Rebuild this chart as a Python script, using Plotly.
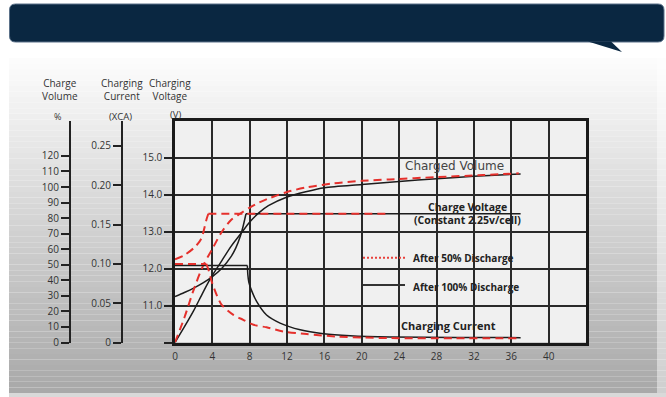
import plotly.graph_objects as go

W, H = 666, 397

# ---------------- data ----------------
# Charge voltage (V)
hours_v100 = [0, 1, 2, 3, 4, 5, 6, 6.5, 7, 7.3, 7.6, 37]
volt_v100 = [11.24, 11.35, 11.47, 11.61, 11.78, 12.0, 12.32, 12.55, 12.88, 13.15, 13.48, 13.48]
hours_v50 = [0, 1, 2, 2.6, 2.9, 3.2, 3.4, 3.57, 23]
volt_v50 = [12.25, 12.36, 12.55, 12.72, 12.86, 13.15, 13.35, 13.48, 13.48]

# Charged volume (%)
hours_q100 = [0, 1, 2, 3, 3.82, 5, 6, 7.1, 8, 9, 10, 12, 14, 16, 20, 24, 28, 32, 37]
pct_q100 = [0, 10, 20.5, 32.3, 41.4, 52.5, 61.8, 70.4, 77.5, 83.5, 88, 93.6, 97, 99.6, 101.7, 103.6, 105.4, 106.9, 108.4]
hours_q50 = [0, 1, 2, 3, 4, 5, 6, 7, 8, 9, 10, 12, 14, 17, 20, 23, 28, 33, 36.8]
pct_q50 = [0, 15.9, 33.9, 49.3, 60.2, 71.1, 78.8, 83.0, 86.8, 90.0, 92.6, 96.8, 99.7, 102.4, 104.0, 104.9, 106.4, 107.7, 108.8]

# Charging current (xCA)
hours_i100 = [0, 7.75, 7.8, 7.9, 8.2, 8.75, 9.8, 11.25, 13.4, 15.9, 18.75, 23, 30, 37]
cur_i100 = [0.098, 0.098, 0.086, 0.077, 0.066, 0.052, 0.035, 0.0247, 0.0161, 0.0111, 0.0085, 0.0069, 0.0064, 0.0062]
hours_i50 = [0, 3.35, 3.6, 3.93, 4.5, 5, 6.25, 7.3, 8.4, 9.8, 11.6, 14.1, 17.3, 20.2, 23, 30, 37]
cur_i50 = [0.100, 0.100, 0.092, 0.0775, 0.0594, 0.0479, 0.0352, 0.0289, 0.0225, 0.0193, 0.014, 0.0107, 0.0076, 0.0064, 0.0056, 0.0054, 0.0053]

# corner indices (where a curve changes from rising/flat segments)
v100_corner = 10
v50_corner = 7
i100_corner = 1
i50_corner = 1

x_ticks = list(range(0, 41, 4))
volt_ticks = [10, 11, 12, 13, 14, 15]
volt_ticktext = ["", "11.0", "12.0", "13.0", "14.0", "15.0"]
pct_ticks = list(range(0, 121, 10))
cur_ticks = [0, 0.05, 0.10, 0.15, 0.20, 0.25]
cur_ticktext = ["0", "0.05", "0.10", "0.15", "0.20", "0.25"]

# ---------------- helpers ----------------
def px(x):
    return x / W

def py(y):
    return 1 - y / H

RED = "#e5302c"
BLACK = "#1c1c1c"
FONT = "Open Sans"

fig = go.Figure()

def seg(xs, ys, axis, color, dash, shape, width):
    fig.add_trace(go.Scatter(
        x=xs, y=ys, yaxis=axis, mode="lines", hoverinfo="skip", showlegend=False,
        line=dict(color=color, width=width, dash=dash, shape=shape,
                  smoothing=0.8 if shape == "spline" else None)))

# charged volume
seg(hours_q100, pct_q100, "y2", BLACK, "solid", "spline", 1.5)
seg(hours_q50, pct_q50, "y2", RED, "8px,5px", "spline", 2)
# charge voltage
seg(hours_v100[:v100_corner + 1], volt_v100[:v100_corner + 1], "y", BLACK, "solid", "spline", 1.5)
seg(hours_v100[v100_corner:], volt_v100[v100_corner:], "y", BLACK, "solid", "linear", 1.5)
seg(hours_v50[:v50_corner + 1], volt_v50[:v50_corner + 1], "y", RED, "8px,5px", "spline", 2)
seg(hours_v50[v50_corner:], volt_v50[v50_corner:], "y", RED, "8px,5px", "linear", 2)
# charging current
seg(hours_i100[:i100_corner + 1], cur_i100[:i100_corner + 1], "y3", BLACK, "solid", "linear", 1.5)
seg(hours_i100[i100_corner:], cur_i100[i100_corner:], "y3", BLACK, "solid", "spline", 1.5)
seg(hours_i50[:i50_corner + 1], cur_i50[:i50_corner + 1], "y3", RED, "8px,5px", "linear", 2)
seg(hours_i50[i50_corner:], cur_i50[i50_corner:], "y3", RED, "8px,5px", "spline", 2)

# ---------------- background decoration ----------------
shapes = []
top_y, bot_y = 58, 393
n = 60
for k in range(n):
    y0 = top_y + (bot_y - top_y) * k / n
    y1 = top_y + (bot_y - top_y) * (k + 1) / n
    t = (k + 0.5) / n
    c = int(round(253 - (253 - 168) * t))
    cl = int(round(c + (255 - c) * 0.45))
    shapes.append(dict(type="rect", xref="paper", yref="paper", layer="below",
                       x0=px(9), x1=px(657), y0=py(y1), y1=py(y0),
                       fillcolor=f"rgb({c},{c},{c})", line=dict(width=0)))
    shapes.append(dict(type="rect", xref="paper", yref="paper", layer="below",
                       x0=px(657), x1=px(666), y0=py(y1), y1=py(y0),
                       fillcolor=f"rgb({cl},{cl},{cl})", line=dict(width=0)))
shapes.append(dict(type="rect", xref="paper", yref="paper", layer="below",
                   x0=px(9), x1=px(666), y0=0, y1=py(bot_y),
                   fillcolor="#d9d9d9", line=dict(width=0)))
# plot area
shapes.append(dict(type="rect", xref="x", yref="y", layer="below",
                   x0=0, x1=44, y0=10, y1=16, fillcolor="#f0f0f0", line=dict(width=0)))

# banner with rounded corners
bx0, bx1, by0, by1, r = 9.5, 664, 4, 42, 6
path = (f"M {px(bx0 + r)},{py(by0)} L {px(bx1 - r)},{py(by0)} "
        f"Q {px(bx1)},{py(by0)} {px(bx1)},{py(by0 + r)} L {px(bx1)},{py(by1 - r)} "
        f"Q {px(bx1)},{py(by1)} {px(bx1 - r)},{py(by1)} L {px(bx0 + r)},{py(by1)} "
        f"Q {px(bx0)},{py(by1)} {px(bx0)},{py(by1 - r)} L {px(bx0)},{py(by0 + r)} "
        f"Q {px(bx0)},{py(by0)} {px(bx0 + r)},{py(by0)} Z")
shapes.append(dict(type="path", xref="paper", yref="paper", path=path,
                   fillcolor="#0a2741", line=dict(color="#5b7189", width=1)))
tail = f"M {px(588)},{py(41.5)} L {px(622)},{py(52)} L {px(611)},{py(41.5)} Z"
shapes.append(dict(type="path", xref="paper", yref="paper", path=tail,
                   fillcolor="#0a2741", line=dict(width=0)))

# legend samples
shapes.append(dict(type="line", xref="paper", yref="paper", x0=px(363), x1=px(405),
                   y0=py(257.7), y1=py(257.7), line=dict(color="#e8413c", width=2, dash="2px,2px")))
shapes.append(dict(type="line", xref="paper", yref="paper", x0=px(363), x1=px(405),
                   y0=py(285), y1=py(285), line=dict(color="#333333", width=1.8)))

# ---------------- annotations ----------------
def ann(text, x, y, size=10, color="#333333", xanchor="center", bold=False, family=FONT):
    if bold:
        text = f"<b>{text}</b>"
    return dict(text=text, x=px(x), y=py(y), xref="paper", yref="paper", showarrow=False,
                xanchor=xanchor, yanchor="middle", align="center",
                font=dict(family=family, size=size, color=color))

annotations = [
    ann("Charge<br>Volume", 59.5, 89.5, 10),
    ann("%", 57, 116.7, 9),
    ann("Charging<br>Current", 122, 89.5, 10),
    ann("(XCA)", 120.5, 116.7, 9.5),
    ann("Charging<br>Voltage", 170, 89.5, 10),
    ann("(V)", 175, 115, 9.5),
    ann("Charged Volume", 454, 165.7, 12, "#444444", family="DejaVu Sans"),
    ann("Charge Voltage", 467, 206.7, 10.5, "#222222", bold=True),
    ann("(Constant 2.25v/cell)", 467, 220, 10.5, "#222222", bold=True),
    ann("After 50% Discharge", 411, 258, 10, "#222222", xanchor="left", bold=True),
    ann("After 100% Discharge", 411, 287, 10, "#222222", xanchor="left", bold=True),
    ann("Charging Current", 448, 325, 11, "#222222", bold=True),
]

tickfont = dict(family=FONT, size=10, color="#333333")
ydom = [py(342.5), py(120.5)]

fig.update_layout(
    width=W, height=H, margin=dict(l=0, r=0, t=0, b=0, autoexpand=False),
    paper_bgcolor="white", plot_bgcolor="rgba(0,0,0,0)",
    showlegend=False, shapes=shapes, annotations=annotations,
    xaxis=dict(domain=[px(175), px(586)], range=[0, 44], tickvals=x_ticks,
               showgrid=True, gridcolor="#2a2a2a", gridwidth=1.8, zeroline=False,
               showline=True, mirror=True, linecolor="#1a1a1a", linewidth=2.5,
               ticks="", tickfont=tickfont, ticklabelstandoff=3, fixedrange=True,
               automargin=False),
    yaxis=dict(domain=ydom, range=[10, 16], tickvals=volt_ticks, ticktext=volt_ticktext,
               showgrid=True, gridcolor="#2a2a2a", gridwidth=1.8, zeroline=False,
               showline=True, mirror=True, linecolor="#1a1a1a", linewidth=2.5,
               ticks="outside", ticklen=8, tickwidth=2, tickcolor="#222222",
               tickfont=tickfont, fixedrange=True, automargin=False),
    yaxis2=dict(overlaying="y", anchor="free", position=px(70), side="left",
                range=[0, 142.8], tickvals=pct_ticks, showgrid=False, zeroline=False,
                showline=True, linecolor="#222222", linewidth=2,
                ticks="outside", ticklen=8, tickwidth=2, tickcolor="#222222",
                tickfont=tickfont, fixedrange=True, automargin=False),
    yaxis3=dict(overlaying="y", anchor="free", position=px(122), side="left",
                range=[0, 0.2824], tickvals=cur_ticks, ticktext=cur_ticktext,
                showgrid=False, zeroline=False,
                showline=True, linecolor="#222222", linewidth=2,
                ticks="outside", ticklen=8, tickwidth=2, tickcolor="#222222",
                tickfont=tickfont, fixedrange=True, automargin=False),
)

fig.write_html("out.html", config={"displayModeBar": False},
               post_script="document.body.style.margin='0';document.body.style.overflow='hidden';")
